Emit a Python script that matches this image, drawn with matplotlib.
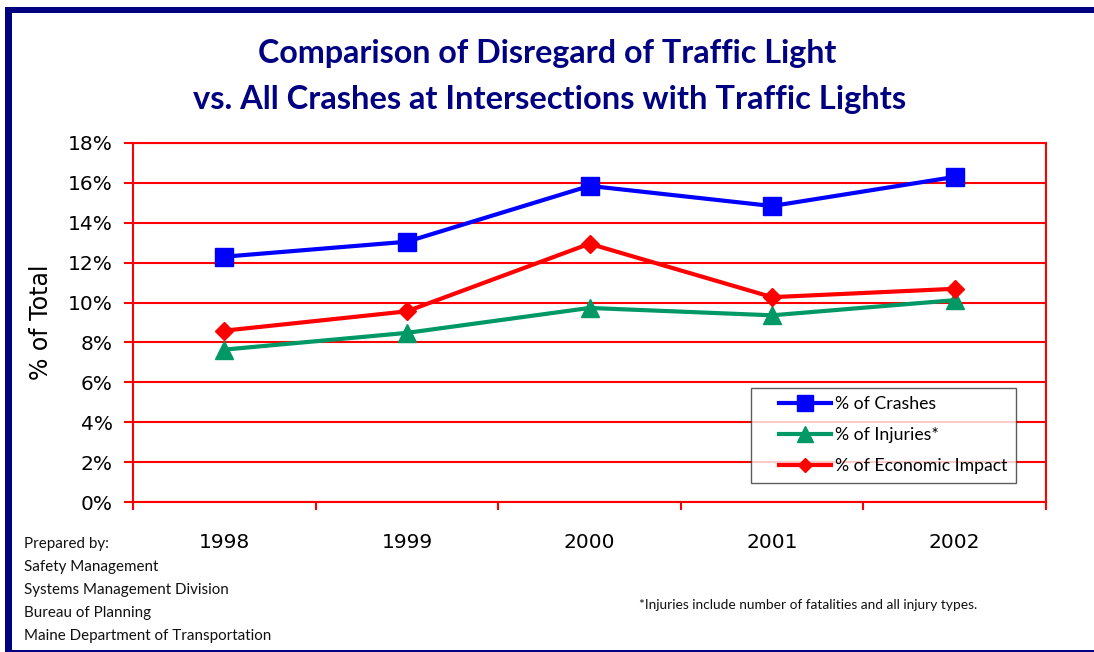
import matplotlib
matplotlib.use("Agg")
import matplotlib.pyplot as plt
from matplotlib.patches import Rectangle
from matplotlib.lines import Line2D
from matplotlib.legend_handler import HandlerLine2D
from matplotlib.ticker import FixedLocator, PercentFormatter

years = ["1998", "1999", "2000", "2001", "2002"]
crashes = [12.3, 13.05, 15.85, 14.84, 16.3]
injuries = [7.64, 8.48, 9.73, 9.36, 10.12]
economic = [8.59, 9.56, 12.95, 10.27, 10.69]
series_labels = ["% of Crashes", "% of Injuries*", "% of Economic Impact"]
title_lines = ["Comparison of Disregard of Traffic Light",
               "vs. All Crashes at Intersections with Traffic Lights"]
footer_lines = ["Prepared by:", "Safety Management", "Systems Management Division",
                "Bureau of Planning", "Maine Department of Transportation"]
footnote = "*Injuries include number of fatalities and all injury types."

W, H = 1094, 652
fig = plt.figure(figsize=(W / 100, H / 100), dpi=100)
fig.patch.set_facecolor("white")

navy = "#000080"
red = "#FF0000"

# frame
fig.patches.append(Rectangle((5 / W, 0), 7 / W, (H - 7) / H, transform=fig.transFigure,
                             facecolor=navy, edgecolor="none"))
fig.patches.append(Rectangle((5 / W, (H - 13) / H), 1, 6 / H, transform=fig.transFigure,
                             facecolor=navy, edgecolor="none"))
fig.patches.append(Rectangle((5 / W, 0), 1, 2 / H, transform=fig.transFigure,
                             facecolor=navy, edgecolor="none"))

ax = fig.add_axes([133 / W, 1 - 502 / H, (1046 - 133) / W, (502 - 143) / H])
ax.set_facecolor("none")

x = [i + 0.5 for i in range(len(years))]
ax.plot(x, crashes, color="#0000FF", lw=3, marker="s", ms=13, label=series_labels[0], zorder=5)
ax.plot(x, injuries, color="#009966", lw=3, marker="^", ms=13, label=series_labels[1], zorder=4)
ax.plot(x, economic, color=red, lw=3, marker="D", ms=8.7, label=series_labels[2], zorder=4)

ax.set_xlim(0, len(years))
ax.set_ylim(0, 18)
ax.yaxis.set_major_locator(FixedLocator(range(0, 19, 2)))
ax.yaxis.set_major_formatter(PercentFormatter(decimals=0))
ax.grid(axis="y", color=red, lw=1.5)
ax.set_axisbelow(True)
for s in ax.spines.values():
    s.set_color(red)
    s.set_linewidth(1.5)

ax.set_xticks(x)
ax.set_xticklabels(years)
ax.xaxis.set_minor_locator(FixedLocator(range(0, len(years) + 1)))
ax.tick_params(axis="x", which="major", length=0, pad=22, labelsize=14.5, labelcolor="black")
ax.tick_params(axis="x", which="minor", length=6, width=1.5, color=red, direction="out")
ax.tick_params(axis="y", length=6.5, width=1.5, color=red, direction="out", pad=8,
               labelsize=14.5, labelcolor="black")

ax.set_ylabel("% of Total", fontsize=17)
ax.yaxis.set_label_coords(-0.088, 0.5)

fs_leg = 12.7
leg = ax.legend(loc="upper left", bbox_to_anchor=((751 - 133) / 913, (502 - 388) / 359),
                borderaxespad=0, frameon=True, fancybox=False, numpoints=1,
                handlelength=4.1, handletextpad=0.22, labelspacing=0.86,
                borderpad=0.46, prop={"family": "Lato", "size": fs_leg},
                handler_map={Line2D: HandlerLine2D(numpoints=1, xpad=1.13)})
leg.get_frame().set_edgecolor("#333333")
leg.get_frame().set_linewidth(1)
for h in leg.legend_handles:
    h.set_markersize(h.get_markersize() * 0.85)

fig.text(547 / W, 1 - 53 / H, title_lines[0], ha="center", va="center", color=navy,
         fontsize=23.2, fontweight="bold", family="Lato")
fig.text(550 / W, 1 - 100 / H, title_lines[1], ha="center", va="center", color=navy,
         fontsize=23.5, fontweight="bold", family="Lato")

for i, line in enumerate(footer_lines):
    fig.text(24 / W, 1 - (544 + 23 * i) / H, line, ha="left", va="center",
             fontsize=10.9, family="Lato", color="#111111")

fig.text(639 / W, 1 - 605 / H, footnote, ha="left", va="center", fontsize=9.9,
         family="Lato", color="#111111")

fig.savefig("out.png", dpi=100)
